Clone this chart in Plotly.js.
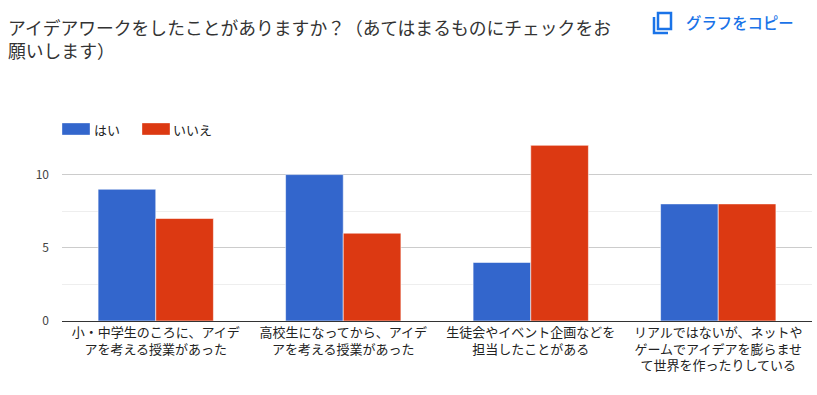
<!DOCTYPE html>
<html><head><meta charset="utf-8">
<script src="https://cdn.plot.ly/plotly-3.0.1.min.js"></script>
<style>html,body{margin:0;padding:0;background:#fff;overflow:hidden}</style></head>
<body><div id="c" style="width:817px;height:395px"></div>
<script>
const categories=["小・中学生のころに、アイデ<br>アを考える授業があった","高校生になってから、アイデ<br>アを考える授業があった","生徒会やイベント企画などを<br>担当したことがある","リアルではないが、ネットや<br>ゲームでアイデアを膨らませ<br>て世界を作ったりしている"];
const yes=[9,10,4,8];
const no=[7,6,12,8];
const seriesNames=["はい","いいえ"];
const seriesColors=["#3366cc","#dc3912"];
const titleText="アイデアワークをしたことがありますか？（あてはまるものにチェックをお<br>願いします）";
const copyText="グラフをコピー";
const font='"Noto Sans CJK JP",Roboto,sans-serif';
const W=817,H=395,L=62,R=5,T=138,B=74;
const px=x=>(x-L)/(W-L-R), py=y=>(H-B-y)/(H-T-B);
const pxRect=(x0,y0,x1,y1,color)=>({type:"rect",xref:"paper",yref:"paper",x0:px(x0),x1:px(x1),y0:py(y1),y1:py(y0),fillcolor:color,line:{width:1,color:"rgba(255,255,255,0.35)"}});
const pxText=(x,y,text,size,color,weight)=>({xref:"paper",yref:"paper",x:px(x),y:py(y),xanchor:"left",yanchor:"middle",text:text,showarrow:false,font:{size:size,color:color,weight:weight||400},borderpad:0});
const barEdge={color:"rgba(255,255,255,0.55)",width:1};
Plotly.newPlot("c",[
{type:"bar",name:seriesNames[0],x:categories,y:yes,marker:{color:seriesColors[0],line:barEdge},showlegend:false},
{type:"bar",name:seriesNames[1],x:categories,y:no,marker:{color:seriesColors[1],line:barEdge},showlegend:false}
],{
width:W,height:H,margin:{l:L,r:R,t:T,b:B},
paper_bgcolor:"#fff",plot_bgcolor:"#fff",
barmode:"group",bargap:0.385,bargroupgap:0,
font:{family:font,color:"#222"},
title:{text:titleText,x:8/W,xanchor:"left",y:1-35/H,yanchor:"top",font:{size:17.8,color:"#333"}},
xaxis:{showline:true,linecolor:"#333",ticks:"",tickfont:{size:13,color:"#222"},tickangle:0,ticklabelstandoff:-1,automargin:false},
yaxis:{range:[0,12.5],tickvals:[0,5,10],ticktext:["0","5","10"],tickfont:{size:12,color:"#444"},ticklabelstandoff:12,gridcolor:"#ccc",zeroline:false,minor:{tickvals:[2.5,7.5,12.5],showgrid:true,gridcolor:"#eee"},automargin:false},
annotations:[
pxText(685,22,copyText,15.4,"#1a73e8",500),
pxText(93,129,seriesNames[0],13,"#222"),
pxText(172,129,seriesNames[1],13,"#222")
],
shapes:[
pxRect(62,123,90,135,seriesColors[0]),
pxRect(142,123,170,135,seriesColors[1]),
{type:"rect",xref:"paper",yref:"paper",x0:px(658),x1:px(671),y0:py(29),y1:py(13),line:{color:"#1a73e8",width:2.5}},
{type:"path",xref:"paper",yref:"paper",path:`M ${px(654)} ${py(17)} L ${px(654)} ${py(33)} L ${px(668)} ${py(33)}`,line:{color:"#1a73e8",width:2.5}}
]
},{displayModeBar:false,responsive:false});
</script></body></html>
